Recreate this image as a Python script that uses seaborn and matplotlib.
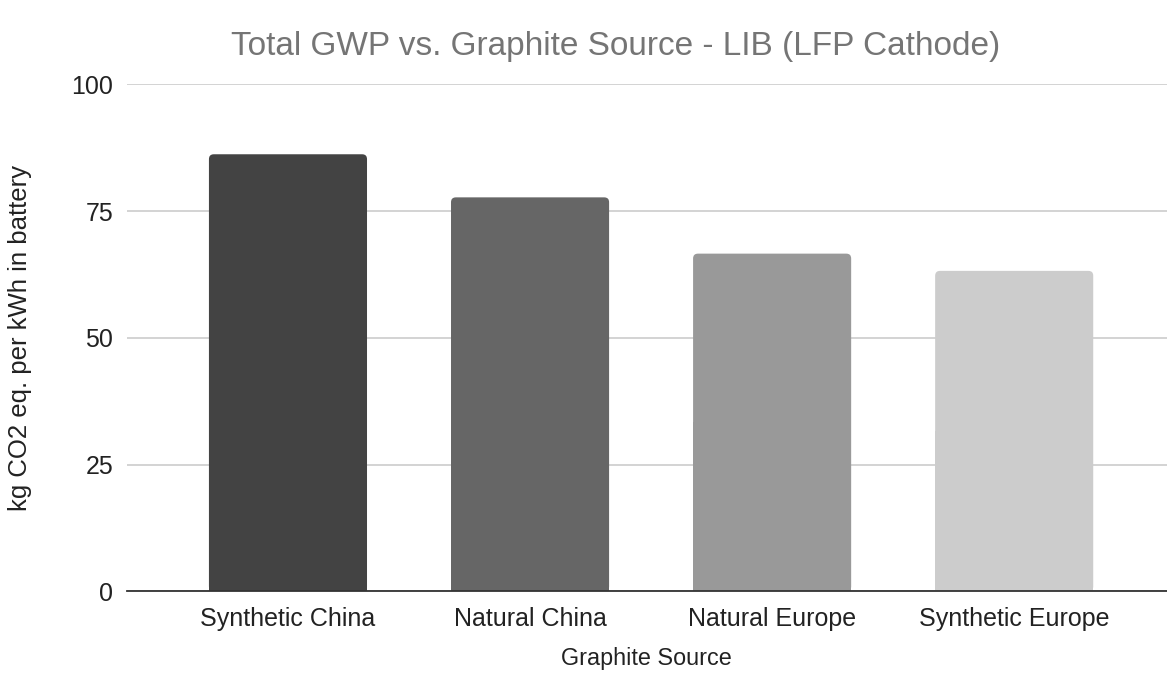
import matplotlib
matplotlib.use("Agg")
import matplotlib.pyplot as plt
import seaborn as sns
import pandas as pd
from matplotlib.patches import FancyBboxPatch

# Graphite source scenarios and total GWP values (kg CO2 eq. per kWh)
sources = ["Synthetic China", "Natural China", "Natural Europe", "Synthetic Europe"]
gwp = [86.2, 77.7, 66.6, 63.2]
bar_colors = ["#434343", "#666666", "#999999", "#cccccc"]
y_ticks = [0, 25, 50, 75, 100]

df = pd.DataFrame({"source": sources, "gwp": gwp})

sns.set_theme(style="white")
plt.rcParams["font.family"] = ["Liberation Sans", "DejaVu Sans"]

W, H = 1167, 698
fig = plt.figure(figsize=(W / 100, H / 100), dpi=100)
ax = fig.add_axes([127 / W, 1 - 591.3 / H, (1166.7 - 127) / W, (591.3 - 84.3) / H])

sns.barplot(data=df, x="source", y="gwp", hue="source", palette=bar_colors,
            legend=False, width=0.653, saturation=1, ax=ax, zorder=3)

# Replace the plain rectangles with slightly rounded bars
for patch in list(ax.patches):
    x0, y0 = patch.get_x(), patch.get_y()
    w, h = patch.get_width(), patch.get_height()
    fc = patch.get_facecolor()
    patch.remove()
    rounded = FancyBboxPatch((x0, y0), w, h,
                             boxstyle="round,pad=0,rounding_size=0.02",
                             mutation_aspect=100 / 4.3 * (1039.7 / 507),
                             facecolor=fc, edgecolor="none", zorder=3)
    ax.add_patch(rounded)
    # square off the bottom corners
    ax.add_patch(plt.Rectangle((x0, y0), w, h * 0.5, facecolor=fc,
                               edgecolor="none", zorder=3))

ax.set_xlim(-0.665, 3.63)
ax.set_ylim(0, 100)
ax.set_yticks(y_ticks)
ax.yaxis.grid(True, color="#cccccc", linewidth=1.2, zorder=0)
ax.xaxis.grid(False)
for s in ["top", "right", "left"]:
    ax.spines[s].set_visible(False)
ax.spines["bottom"].set_color("#333333")
ax.spines["bottom"].set_linewidth(1.3)
ax.spines["bottom"].set_zorder(4)
ax.tick_params(axis="both", length=0, labelsize=18, colors="#222222")
ax.tick_params(axis="y", pad=10)
ax.tick_params(axis="x", pad=11.5)

ax.set_xlabel("")
ax.set_ylabel("")
fig.text(20 / W, 1 - 338 / H, "kg CO2 eq. per kWh in battery", rotation=90,
         ha="center", va="center", fontsize=18.5, color="#222222")
fig.text(646 / W, 1 - 658 / H, "Graphite Source", ha="center", va="center",
         fontsize=16.8, color="#222222")
fig.text(616 / W, 1 - 47 / H, "Total GWP vs. Graphite Source - LIB (LFP Cathode)",
         ha="center", va="center", fontsize=24, color="#757575")

fig.savefig("out.png", dpi=100)
